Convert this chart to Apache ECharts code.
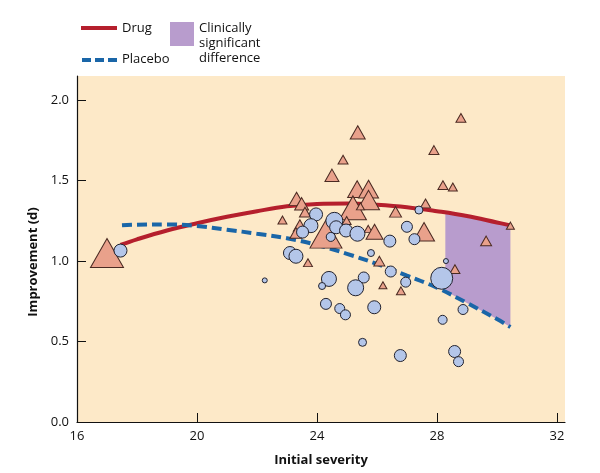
<!DOCTYPE html>
<html>
<head>
<meta charset="utf-8">
<script src="https://cdn.jsdelivr.net/npm/echarts@6/dist/echarts.min.js"></script>
<style>
html,body{margin:0;padding:0;background:#fff;}
#chart{width:600px;height:473px;}
</style>
</head>
<body>
<div id="chart"></div>
<script>
// ---- Data ----
var xTicks = [16, 20, 24, 28, 32];
var yTicks = [0, 0.5, 1.0, 1.5, 2.0];

// Drug trials (triangles): initial severity, improvement, weight (marker size)
var drugX = [17.0, 28.8, 25.36, 27.9, 24.87, 24.5, 28.2, 28.53, 25.34, 25.72, 23.32, 23.49, 23.6,
             25.72, 25.2, 25.45, 27.62, 26.62, 22.85, 24.99, 23.43, 23.3, 25.71, 30.45, 24.3,
             27.57, 25.92, 29.64, 26.08, 23.7, 28.6, 26.2, 26.8];
var drugY = [1.05, 1.89, 1.80, 1.69, 1.63, 1.533, 1.472, 1.46, 1.447, 1.447, 1.387, 1.356, 1.304,
             1.379, 1.331, 1.34, 1.358, 1.306, 1.255, 1.252, 1.221, 1.175, 1.2, 1.22, 1.168,
             1.182, 1.182, 1.125, 1.0, 0.99, 0.95, 0.85, 0.815];
var drugWeight = [33, 10, 15, 10, 10, 14, 10, 9, 19, 20, 15, 14, 11,
                  22, 27, 8, 10, 12, 9, 9, 13, 12, 8, 8, 32,
                  21, 17, 11, 11, 9, 10, 8, 9];

// Placebo trials (circles)
var placeboX = [17.45, 22.26, 23.97, 23.8, 23.52, 24.58, 24.64, 24.46, 24.97, 25.35, 27.4, 27.0,
                26.43, 27.25, 25.8, 23.1, 23.3, 28.3, 26.46, 24.4, 25.56, 24.17, 25.29, 26.96,
                28.16, 24.3, 24.76, 24.95, 25.91, 28.87, 28.19, 25.52, 26.78, 28.59, 28.72];
var placeboY = [1.065, 0.88, 1.29, 1.22, 1.18, 1.25, 1.21, 1.15, 1.19, 1.17, 1.317, 1.213,
                1.124, 1.136, 1.05, 1.05, 1.03, 1.0, 0.935, 0.889, 0.898, 0.845, 0.834, 0.869,
                0.893, 0.734, 0.705, 0.666, 0.713, 0.699, 0.635, 0.495, 0.413, 0.438, 0.375];
var placeboWeight = [13, 5, 13, 14, 12, 17, 13, 9, 13, 15, 8, 11,
                     12, 11, 7, 13, 14, 5, 11, 15, 11, 7, 16, 10,
                     22, 11, 10, 10, 13, 10, 9, 8, 12, 12, 10];

// Fitted curves
var drugCurveX = [17.45, 18, 19, 20, 21, 22, 23, 24, 25, 26, 27, 28, 29, 30, 30.45];
var drugCurveY = [1.10, 1.135, 1.19, 1.235, 1.275, 1.31, 1.34, 1.355, 1.358, 1.35, 1.335, 1.31, 1.28, 1.24, 1.222];
var placeboCurveX = [17.5, 18, 19, 20, 21, 22, 23, 24, 25, 26, 27, 28, 29, 30, 30.45];
var placeboCurveY = [1.222, 1.226, 1.228, 1.218, 1.195, 1.17, 1.142, 1.1, 1.045, 0.982, 0.91, 0.835, 0.74, 0.64, 0.59];

// Clinically significant difference region
var shadeX = [28.28, 29, 29.5, 30, 30.45];
var shadeTop = [1.30, 1.28, 1.262, 1.24, 1.222];
var shadeBottom = [0.815, 0.74, 0.69, 0.64, 0.59];

// ---- Build ----
function zip3(a, b, c) { return a.map(function (v, i) { return [v, b[i], c ? c[i] : 0]; }); }

var FONT = '"Open Sans", "DejaVu Sans", sans-serif';
var chart = echarts.init(document.getElementById('chart'));

chart.setOption({
  animation: false,
  backgroundColor: '#ffffff',
  textStyle: { fontFamily: FONT },
  grid: {
    left: 77, right: 35, top: 76, bottom: 51,
    show: true, backgroundColor: '#fde9c8', borderWidth: 0
  },
  xAxis: {
    type: 'value', min: 16, max: 32.27,
    name: 'Initial severity', nameLocation: 'middle', nameGap: 32,
    nameTextStyle: { fontFamily: FONT, fontWeight: 'bold', fontSize: 13, color: '#111' },
    axisLine: { onZero: false, lineStyle: { color: '#111', width: 1.2 } },
    axisTick: { inside: true, length: 9, customValues: xTicks, lineStyle: { color: '#111' } },
    axisLabel: { customValues: xTicks, margin: 8, fontSize: 13, color: '#111', fontFamily: FONT },
    splitLine: { show: false }
  },
  yAxis: {
    type: 'value', min: 0, max: 2.15,
    axisLine: { show: true, lineStyle: { color: '#111', width: 1.2 } },
    axisTick: { show: true, inside: true, length: 9, customValues: yTicks, lineStyle: { color: '#111' } },
    axisLabel: {
      customValues: yTicks, margin: 8, fontSize: 13, color: '#111', fontFamily: FONT,
      formatter: function (v) { return v.toFixed(1); }
    },
    splitLine: { show: false }
  },
  graphic: [
    { type: 'text', x: 33, y: 262, rotation: Math.PI / 2,
      style: { text: 'Improvement (d)', fontFamily: FONT, fontWeight: 'bold', fontSize: 13,
               fill: '#111', textAlign: 'center', textVerticalAlign: 'middle' } },
    { type: 'line', shape: { x1: 81, y1: 28, x2: 117, y2: 28 },
      style: { stroke: '#b51f2d', lineWidth: 4 } },
    { type: 'text', x: 122, y: 28,
      style: { text: 'Drug', fontFamily: FONT, fontSize: 13, fill: '#111', textVerticalAlign: 'middle' } },
    { type: 'line', shape: { x1: 82, y1: 60, x2: 117, y2: 60 },
      style: { stroke: '#1a66a8', lineWidth: 4, lineDash: [9, 4] } },
    { type: 'text', x: 122, y: 59,
      style: { text: 'Placebo', fontFamily: FONT, fontSize: 13, fill: '#111', textVerticalAlign: 'middle' } },
    { type: 'rect', shape: { x: 170, y: 22, width: 24, height: 24 },
      style: { fill: '#b89ccd' } },
    { type: 'text', x: 199, y: 21,
      style: { text: 'Clinically\nsignificant\ndifference', fontFamily: FONT, fontSize: 13,
               lineHeight: 15, fill: '#111', textVerticalAlign: 'top' } }
  ],
  series: [
    {
      type: 'custom', name: 'Clinically significant difference', z: 1,
      data: [0], silent: true,
      renderItem: function (params, api) {
        var pts = [];
        for (var i = 0; i < shadeX.length; i++) pts.push(api.coord([shadeX[i], shadeTop[i]]));
        for (var j = shadeX.length - 1; j >= 0; j--) pts.push(api.coord([shadeX[j], shadeBottom[j]]));
        return { type: 'polygon', shape: { points: pts }, style: { fill: '#b89ccd' } };
      }
    },
    {
      type: 'line', name: 'Drug', z: 2, smooth: 0.4, showSymbol: false,
      data: drugCurveX.map(function (v, i) { return [v, drugCurveY[i]]; }),
      lineStyle: { color: '#b51f2d', width: 4 }
    },
    {
      type: 'line', name: 'Placebo', z: 2, smooth: 0.4, showSymbol: false,
      data: placeboCurveX.map(function (v, i) { return [v, placeboCurveY[i]]; }),
      lineStyle: { color: '#1a66a8', width: 4, type: [10, 5] }
    },
    {
      type: 'scatter', name: 'Drug trials', z: 3, symbol: 'triangle',
      data: zip3(drugX, drugY, drugWeight),
      symbolSize: function (d) { return [d[2], d[2] * 0.88]; },
      itemStyle: { color: '#e9a18b', borderColor: '#4a2a22', borderWidth: 1, opacity: 1 }
    },
    {
      type: 'scatter', name: 'Placebo trials', z: 4, symbol: 'circle',
      data: zip3(placeboX, placeboY, placeboWeight),
      symbolSize: function (d) { return d[2]; },
      itemStyle: { color: '#b4c6e9', borderColor: '#22222e', borderWidth: 1, opacity: 1 }
    }
  ]
});
</script>
</body>
</html>
